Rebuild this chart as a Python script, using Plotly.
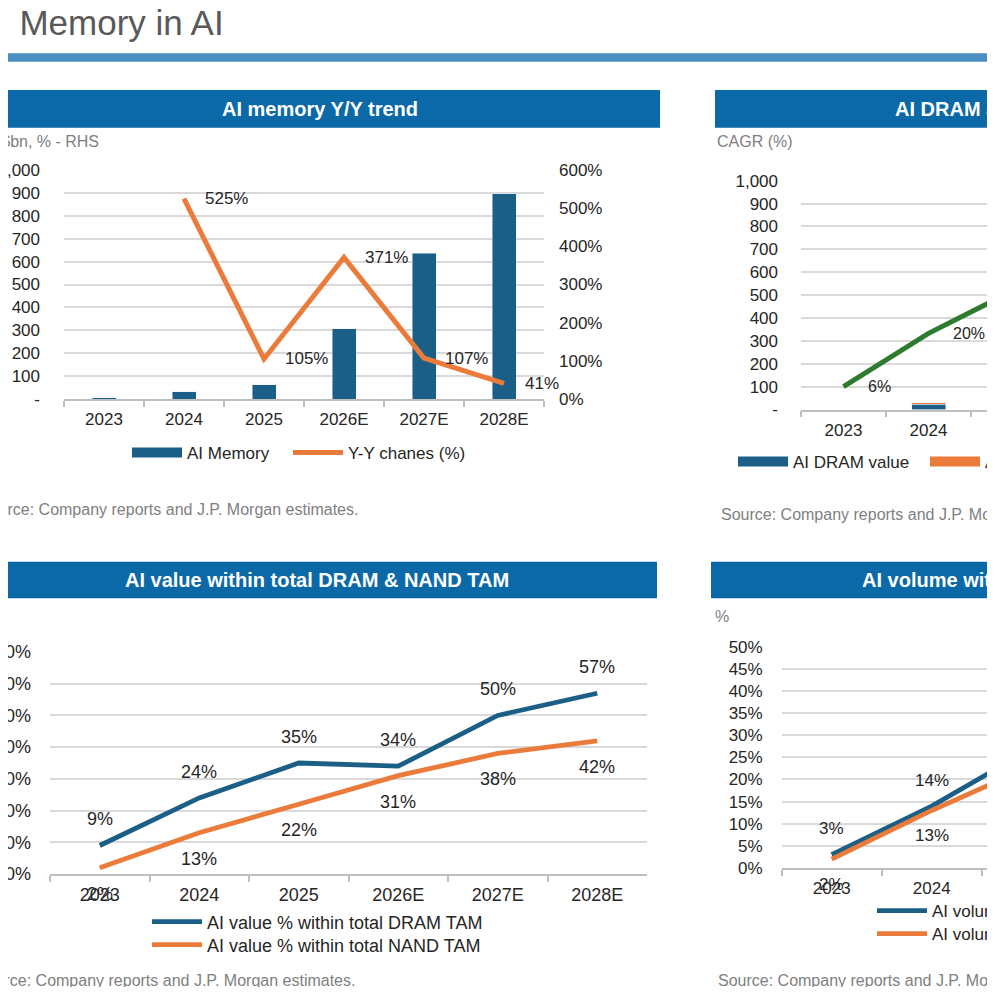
import plotly.graph_objects as go

# -------- DATA --------
years = ["2023", "2024", "2025", "2026E", "2027E", "2028E"]

# AI memory Y/Y trend (US$bn, % RHS)
ai_memory = [6, 32, 62, 307, 636, 896]
yoy_change = [None, 525, 105, 371, 107, 41]

# AI DRAM and NAND value (only first categories visible)
dram_value = [None, 24]
nand_value = [None, 6]
total_value = [100, 333, 520]
cagr_labels = ["6%", "20%"]

# AI value within total DRAM & NAND TAM (%)
dram_tam_share = [9, 24, 35, 34, 50, 57]
nand_tam_share = [2, 13, 22, 31, 38, 42]

# AI volume within total DRAM & NAND TAM (%)
dram_vol_share = [3, 14, 27]
nand_vol_share = [2, 13, 23]

thousand_ticks = list(range(0, 1001, 100))
thousand_text = ["-"] + [f"{v:,}" for v in thousand_ticks[1:]]
pct600_ticks = list(range(0, 601, 100))
pct600_text = [f"{v}%" for v in pct600_ticks]

# -------- STYLE --------
# page body has an 8px margin, so the figure sits at (8, 8) in the window
OFF = 8
W = H = 995 - 2 * OFF
FONT = "Liberation Sans, Arial, sans-serif"
BLUE = "#1B5F86"
ORANGE = "#EB7B3A"
GREEN = "#2E7B2F"
HEADER = "#0B69A7"
BAND = "#4B8EC1"
GRID = "#D9D9D9"
AXIS = "#BFBFBF"
TXT = "#262626"
GREY = "#808080"
RIGHT = OFF + W  # last visible window pixel


def px(x):
    return (x - OFF) / W


def py(y):
    return 1 - (y - OFF) / H


fig = go.Figure()

# ---- chart 1: AI memory Y/Y trend ----
fig.add_trace(go.Bar(x=years, y=ai_memory, width=0.3, marker_color=BLUE,
                     xaxis="x", yaxis="y", showlegend=False))
fig.add_trace(go.Scatter(x=[None], y=[None], mode="lines", name="AI Memory",
                         line=dict(color=BLUE, width=10), xaxis="x", yaxis="y",
                         legend="legend"))
fig.add_trace(go.Scatter(x=years, y=yoy_change, mode="lines", name="Y-Y chanes (%)",
                         line=dict(color=ORANGE, width=5), xaxis="x", yaxis="y2",
                         legend="legend2"))

# ---- chart 2: AI DRAM and NAND value ----
fig.add_trace(go.Bar(x=years[:2], y=dram_value, width=0.4, marker_color=BLUE,
                     xaxis="x2", yaxis="y3", showlegend=False))
fig.add_trace(go.Bar(x=years[:2], y=nand_value, width=0.4, marker_color=ORANGE,
                     xaxis="x2", yaxis="y3", showlegend=False))
fig.add_trace(go.Scatter(x=[None], y=[None], mode="lines", name="AI DRAM value",
                         line=dict(color=BLUE, width=10), xaxis="x2", yaxis="y3",
                         legend="legend3"))
fig.add_trace(go.Scatter(x=[None], y=[None], mode="lines", name="AI NAND value",
                         line=dict(color=ORANGE, width=10), xaxis="x2", yaxis="y3",
                         legend="legend4"))
fig.add_trace(go.Scatter(x=years[:3], y=total_value, mode="lines", name="AI memory value",
                         line=dict(color=GREEN, width=5), xaxis="x2", yaxis="y3",
                         showlegend=False))

# ---- chart 3: AI value within total DRAM & NAND TAM ----
fig.add_trace(go.Scatter(x=years, y=dram_tam_share, mode="lines",
                         name="AI value % within total DRAM TAM",
                         line=dict(color=BLUE, width=4.8), xaxis="x3", yaxis="y4",
                         legend="legend5"))
fig.add_trace(go.Scatter(x=years, y=nand_tam_share, mode="lines",
                         name="AI value % within total NAND TAM",
                         line=dict(color=ORANGE, width=4.8), xaxis="x3", yaxis="y4",
                         legend="legend6"))

# ---- chart 4: AI volume within total DRAM & NAND TAM ----
fig.add_trace(go.Scatter(x=years[:3], y=dram_vol_share, mode="lines",
                         name="AI volume % within total DRAM TAM",
                         line=dict(color=BLUE, width=4.8), xaxis="x4", yaxis="y5",
                         legend="legend7"))
fig.add_trace(go.Scatter(x=years[:3], y=nand_vol_share, mode="lines",
                         name="AI volume % within total NAND TAM",
                         line=dict(color=ORANGE, width=4.8), xaxis="x4", yaxis="y5",
                         legend="legend8"))


# -------- AXES --------
def cat_axis(domain, anchor, rng, size=17):
    return dict(domain=domain, anchor=anchor, type="category",
                categoryorder="array", categoryarray=years, range=rng,
                automargin=False, showline=True, linecolor=AXIS, linewidth=1.5,
                ticks="outside", tickson="boundaries", ticklen=6, tickcolor=AXIS,
                tickwidth=1.5, showgrid=False, ticklabelstandoff=4,
                tickfont=dict(size=size, color=TXT))


def val_axis(domain, anchor, rng, size=17, standoff=18, **kw):
    ax = dict(domain=domain, anchor=anchor, range=rng, showgrid=True,
              gridcolor=GRID, gridwidth=1.5, zeroline=False, showline=False,
              automargin=False, ticks="", ticklabelstandoff=standoff,
              tickfont=dict(size=size, color=TXT))
    ax.update(kw)
    return ax


layout_axes = dict(
    xaxis=cat_axis([px(64), px(544)], "y", [-0.5, 5.5]),
    yaxis=val_axis([py(399), py(170)], "x", [0, 1000], standoff=23,
                   tickvals=thousand_ticks, ticktext=thousand_text),
    yaxis2=dict(overlaying="y", side="right", anchor="x", range=[0, 600],
                tickvals=pct600_ticks, ticktext=pct600_text, showgrid=False,
                zeroline=False, automargin=False, ticks="", ticklabelstandoff=14,
                tickfont=dict(size=17, color=TXT)),
    xaxis2=cat_axis([px(801), 1], "y3", [-0.5, -0.5 + (RIGHT - 801) / 85]),
    yaxis3=val_axis([py(409.5), py(180.7)], "x2", [0, 1000], standoff=22,
                    tickvals=thousand_ticks, ticktext=thousand_text),
    xaxis3=cat_axis([px(50), px(647)], "y4", [-0.5, 5.5], size=18),
    yaxis4=val_axis([py(874), py(652)], "x3", [0, 70], size=18,
                    dtick=10, ticksuffix="%"),
    xaxis4=cat_axis([px(781.7), 1], "y5", [-0.5, -0.5 + (RIGHT - 781.7) / 100]),
    yaxis5=val_axis([py(868), py(646.7)], "x4", [0, 50],
                    dtick=5, ticksuffix="%"),
)

# -------- ANNOTATIONS & SHAPES --------
annotations = []


def point_labels(ys, texts, xref, yref, xshift=0, yshift=0, size=17):
    # x is the category index on the category axis
    for i, (y, t) in enumerate(zip(ys, texts)):
        if y is None or t is None:
            continue
        annotations.append(dict(
            x=i, y=y, xref=xref, yref=yref, text=t, showarrow=False,
            xanchor="left" if xshift else "center", yanchor="middle",
            xshift=xshift, yshift=yshift, font=dict(size=size, color=TXT, family=FONT)))


point_labels(yoy_change, [None if v is None else f"{v}%" for v in yoy_change],
             "x", "y2", xshift=19)
point_labels(total_value[:2], cagr_labels, "x2", "y3", xshift=22, size=16)
point_labels(dram_tam_share, [f"{v}%" for v in dram_tam_share], "x3", "y4",
             yshift=26, size=18)
point_labels(nand_tam_share, [f"{v}%" for v in nand_tam_share], "x3", "y4",
             yshift=-26, size=18)
point_labels(dram_vol_share[:2], [f"{v}%" for v in dram_vol_share[:2]],
             "x4", "y5", yshift=26)
point_labels(nand_vol_share[:2], [f"{v}%" for v in nand_vol_share[:2]],
             "x4", "y5", yshift=-25)


def text_at(x, y, text, size, color, anchor="left", bold=False):
    annotations.append(dict(
        x=px(x), y=py(y), xref="paper", yref="paper", showarrow=False,
        text=f"<b>{text}</b>" if bold else text, xanchor=anchor, yanchor="middle",
        font=dict(size=size, color=color, family=FONT)))


# page title
text_at(-2, 22.5, ". Memory in AI", 35, "#595959")

# panel headers
headers = [
    (-30, 660, 90, 127.7, 320, "AI memory Y/Y trend", "center"),
    (715, 1030, 90, 127.7, 892.7, "AI DRAM and NAND value", "left"),
    (-30, 657, 561.7, 598.3, 317, "AI value within total DRAM & NAND TAM", "center"),
    (711, 1030, 561.7, 598.3, 860, "AI volume within total DRAM & NAND TAM", "left"),
]
shapes = [dict(type="rect", xref="paper", yref="paper", x0=px(-30), x1=px(1030),
               y0=py(61.7), y1=py(53.3), fillcolor=BAND, line_width=0, layer="below")]
for x0, x1, y0, y1, tx, t, anc in headers:
    shapes.append(dict(type="rect", xref="paper", yref="paper", x0=px(x0), x1=px(x1),
                       y0=py(y1), y1=py(y0), fillcolor=HEADER, line_width=0,
                       layer="below"))
    text_at(tx, (y0 + y1) / 2, t, 20, "white", anchor=anc, bold=True)

# axis captions
text_at(-23, 142, "US$bn, % - RHS", 16, GREY)
text_at(715, 142, "CAGR (%)", 16, GREY)
text_at(713, 616, "%", 16, GREY)

# sources
src = "Source: Company reports and J.P. Morgan estimates."
text_at(-23, 509, src, 16, GREY)
text_at(719, 515, src, 16, GREY)
text_at(-26, 980, src, 16, GREY)
text_at(716, 980, src, 16, GREY)


def legend_at(x_swatch, y_mid, size=17):
    # swatch starts 5px right of the legend box edge
    return dict(orientation="v", x=px(x_swatch - 5), y=py(y_mid), xanchor="left",
                yanchor="middle", bgcolor="rgba(0,0,0,0)", itemwidth=50,
                font=dict(size=size, color=TXT))


fig.update_layout(
    width=W, height=H,
    margin=dict(l=0, r=0, t=0, b=0, autoexpand=False),
    paper_bgcolor="white", plot_bgcolor="white",
    font=dict(family=FONT, color=TXT),
    barmode="stack",
    annotations=annotations,
    shapes=shapes,
    legend=legend_at(132, 453),
    legend2=legend_at(293, 453),
    legend3=legend_at(738, 462),
    legend4=legend_at(930, 462),
    legend5=legend_at(152, 922, 18),
    legend6=legend_at(152, 945, 18),
    legend7=legend_at(877, 911),
    legend8=legend_at(877, 934),
    **layout_axes,
)

fig.write_html("out.html")
